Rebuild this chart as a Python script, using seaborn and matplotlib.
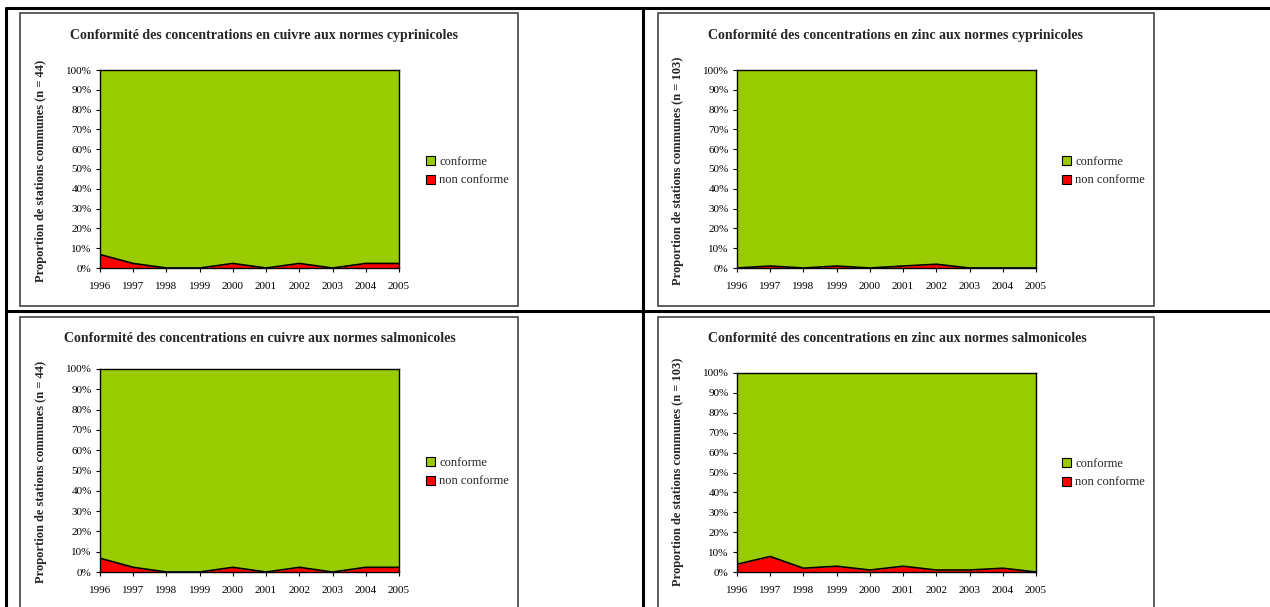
import numpy as np
import pandas as pd
import matplotlib
matplotlib.use("Agg")
import matplotlib.pyplot as plt
from matplotlib.patches import Patch, Rectangle
from matplotlib.lines import Line2D
import seaborn as sns

# Années de suivi
annees = [1996, 1997, 1998, 1999, 2000, 2001, 2002, 2003, 2004, 2005]

# Part des stations non conformes (%) par métal et par norme
cuivre_cyprinicole_nc = [6.8, 2.3, 0.0, 0.0, 2.3, 0.0, 2.3, 0.0, 2.3, 2.3]
zinc_cyprinicole_nc = [0.0, 1.0, 0.0, 1.0, 0.0, 1.0, 1.9, 0.0, 0.0, 0.0]
cuivre_salmonicole_nc = [6.8, 2.3, 0.0, 0.0, 2.3, 0.0, 2.3, 0.0, 2.3, 2.3]
zinc_salmonicole_nc = [3.9, 7.8, 1.9, 2.9, 1.0, 2.9, 1.0, 1.0, 1.9, 0.0]

titres = [
    "Conformité des concentrations en cuivre aux normes cyprinicoles",
    "Conformité des concentrations en zinc aux normes cyprinicoles",
    "Conformité des concentrations en cuivre aux normes salmonicoles",
    "Conformité des concentrations en zinc aux normes salmonicoles",
]
effectifs = [44, 103, 44, 103]
series_nc = [cuivre_cyprinicole_nc, zinc_cyprinicole_nc,
             cuivre_salmonicole_nc, zinc_salmonicole_nc]
etiquettes_y = [f"{v}%" for v in range(0, 101, 10)]
legende = ["conforme", "non conforme"]

VERT = "#99CC00"
ROUGE = "#FF0000"

sns.set_theme(style="white")
plt.rcParams["font.family"] = ["Liberation Serif", "DejaVu Serif"]

W, H = 1270, 607
fig = plt.figure(figsize=(W / 100, H / 100), dpi=100)


def fx(x):
    return x / W


def fy(y):
    return 1 - y / H


# Cadre du tableau
for (x0, y0, x1, y1) in [(6, 8, W, 8), (6, 8, 6, H), (643, 8, 643, H), (6, 311, W, 311)]:
    fig.add_artist(Line2D([fx(x0), fx(x1)], [fy(y0), fy(y1)], color="black", lw=2.2))

# Cadres des graphiques
cadres = [(20, 13, 518, 306), (658, 13, 1154, 306), (20, 317, 518, 612), (658, 317, 1154, 612)]
for (x0, y0, x1, y1) in cadres:
    fig.add_artist(Rectangle((fx(x0), fy(y1)), fx(x1 - x0), (y1 - y0) / H,
                             fill=False, edgecolor="#333333", lw=1.1))

# Zones de tracé (px : gauche, haut, droite, bas)
zones = [(100, 70, 399, 268), (737, 70, 1036, 268), (100, 369, 399, 572), (737, 373, 1036, 572)]
titres_pos = [(264, 36), (896, 36), (260, 338), (897, 339)]
ylab_pos = [(41, 171), (678, 171), (41, 472), (678, 472)]
leg_pos = [(426, 171), (1062, 171), (426, 472), (1062, 473)]

for i in range(4):
    x0, y0, x1, y1 = zones[i]
    ax = fig.add_axes([fx(x0), fy(y1), fx(x1 - x0), (y1 - y0) / H])
    df = pd.DataFrame({"annee": annees, "non conforme": series_nc[i]})
    df["conforme"] = 100 - df["non conforme"]
    ax.fill_between(df["annee"], 0, df["non conforme"], color=ROUGE, lw=0)
    ax.fill_between(df["annee"], df["non conforme"], 100, color=VERT, lw=0)
    sns.lineplot(data=df, x="annee", y="non conforme", color="black", lw=1.2, ax=ax)
    ax.set_xlim(annees[0], annees[-1])
    ax.set_ylim(0, 100)
    ax.set_xticks(annees)
    ax.set_xticklabels([str(a) for a in annees], fontsize=8)
    ax.set_yticks(range(0, 101, 10))
    ax.set_yticklabels(etiquettes_y, fontsize=8)
    ax.tick_params(axis="both", direction="out", length=3, width=0.8,
                   bottom=True, left=True, colors="black")
    ax.tick_params(axis="x", pad=7)
    ax.tick_params(axis="y", pad=3)
    for s in ax.spines.values():
        s.set_color("black")
        s.set_linewidth(1.0)
    ax.set_xlabel("")
    ax.set_ylabel("")

    tx, ty = titres_pos[i]
    fig.text(fx(tx), fy(ty), titres[i], ha="center", va="center",
             fontsize=10, fontweight="bold")
    lx, ly = ylab_pos[i]
    fig.text(fx(lx), fy(ly), f"Proportion de stations communes (n = {effectifs[i]})",
             ha="center", va="center", rotation=90, fontsize=9, fontweight="bold")

    gx, gy = leg_pos[i]
    poignees = [Patch(facecolor=VERT, edgecolor="black", lw=0.8),
                Patch(facecolor=ROUGE, edgecolor="black", lw=0.8)]
    fig.legend(poignees, legende, loc="center left",
               bbox_to_anchor=(fx(gx), fy(gy)), frameon=False, fontsize=9,
               handlelength=0.75, handleheight=0.75, handletextpad=0.3,
               labelspacing=0.55, borderpad=0, borderaxespad=0)

fig.savefig("out.png", dpi=100)
